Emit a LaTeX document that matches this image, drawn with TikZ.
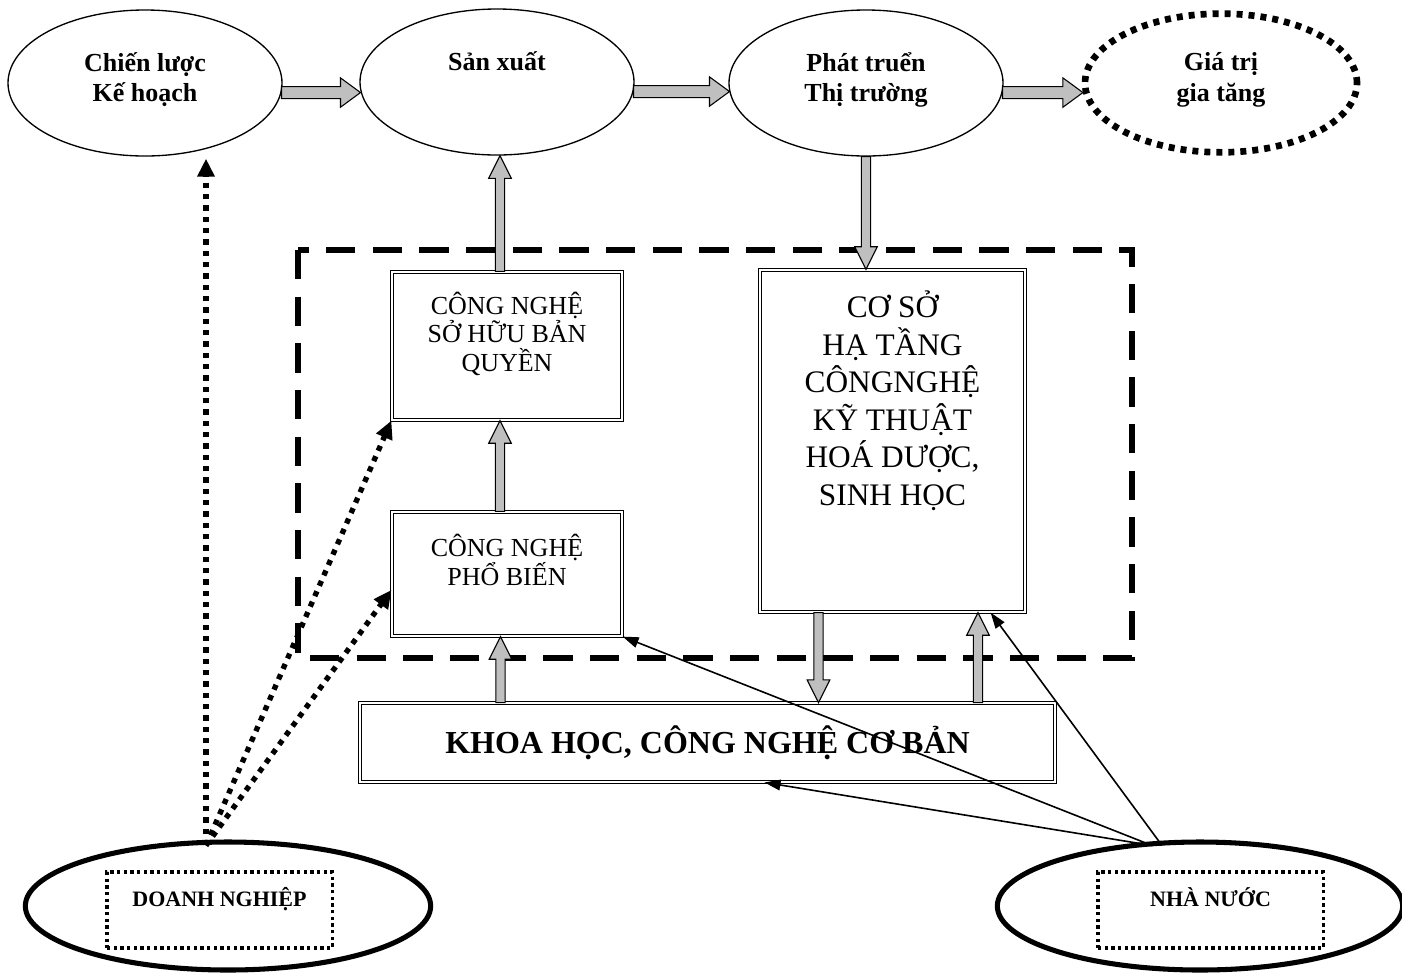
\documentclass[tikz,border=0pt]{standalone}
\usepackage{fontspec}
\setmainfont{Liberation Serif}
\usetikzlibrary{calc}
\usetikzlibrary{arrows.meta}
\usetikzlibrary{shapes.geometric}

% grey block arrows, horizontal (left to right) and vertical
\newcommand{\fath}[2]{%
 \draw[fill=gray!50, line width=.8pt] let \p1=(#1), \p2=(#2) in
  ({\x1},{\y1+4.5pt}) -- ({\x2-15pt},{\y1+4.5pt}) -- ({\x2-15pt},{\y1+11pt}) -- ({\x2},{\y1})
  -- ({\x2-15pt},{\y1-11pt}) -- ({\x2-15pt},{\y1-4.5pt}) -- ({\x1},{\y1-4.5pt}) -- cycle;}
\newcommand{\fatv}[2]{%
 \draw[fill=gray!50, line width=.8pt] let \p1=(#1), \p2=(#2), \n1={17*sign(\y2-\y1)} in
  ({\x1-3.5pt},{\y1}) -- ({\x1-3.5pt},{\y2-(\n1)*1pt}) -- ({\x1-8.5pt},{\y2-(\n1)*1pt}) -- ({\x1},{\y2})
  -- ({\x1+8.5pt},{\y2-(\n1)*1pt}) -- ({\x1+3.5pt},{\y2-(\n1)*1pt}) -- ({\x1+3.5pt},{\y1}) -- cycle;}

\begin{document}
\begin{tikzpicture}[x=.75pt, y=-.75pt,
 oval/.style={draw, ellipse, line width=1pt, inner sep=0pt, align=center, minimum width=205.5pt, minimum height=109.5pt, font=\fontsize{19.5}{23}\selectfont\bfseries},
 dbox/.style={draw, double, double distance=1.6pt, line width=.9pt, inner sep=0pt, align=center},
 actor/.style={draw, ellipse, line width=3.8pt, minimum width=304pt, minimum height=96pt},
 tagbox/.style={draw, line width=2.5pt, dash pattern=on 2.5pt off 2.5pt, minimum width=169pt, minimum height=57pt, align=center, font=\fontsize{16.5}{20}\selectfont\bfseries},
 bizline/.style={line width=4pt, dash pattern=on 4pt off 4.5pt, -{Triangle[length=13.5pt, width=12.5pt]}},
 govline/.style={line width=1.2pt, -{Triangle[length=12pt, width=8pt]}}]
\useasboundingbox (0,0) rectangle (1402,972);

% top row
\node[oval] (plan) at (145,83) {Chiến lược\\Kế hoạch\\[-14pt]\mbox{}};
\node[oval] (prod) at (497,82) {Sản xuất\\\mbox{}\\[-14pt]\mbox{}};
\node[oval] (mkt) at (866,83) {Phát truển\\Thị trường\\[-14pt]\mbox{}};
\node[oval, line width=5pt, dash pattern=on 4.5pt off 4.5pt, minimum width=204pt, minimum height=104pt] (value) at (1221,83) {Giá trị\\gia tăng\\[-14pt]\mbox{}};

% frame
\draw[line width=4.5pt, dash pattern=on 22pt off 13pt] (298,250) rectangle (1132,658);

% boxes
\node[dbox, minimum width=172.5pt, minimum height=111pt, font=\fontsize{19.5}{21.5}\selectfont] (own) at (507,346) {CÔNG NGHỆ\\SỞ HỮU BẢN\\QUYỀN\\\mbox{}};
\node[dbox, minimum width=172.5pt, minimum height=93pt, font=\fontsize{19.5}{21.5}\selectfont] (pop) at (507,574) {CÔNG NGHỆ\\PHỔ BIẾN\\\mbox{}};
\node[dbox, minimum width=198.75pt, minimum height=256.5pt, font=\fontsize{23.5}{28.2}\selectfont] (infra) at (892.5,441) {CƠ SỞ\\HẠ TẦNG\\CÔNGNGHỆ\\KỸ THUẬT\\HOÁ DƯỢC,\\SINH HỌC\\\mbox{}\\[8pt]\mbox{}};
\node[dbox, minimum width=521pt, minimum height=59pt, font=\fontsize{24}{29}\selectfont\bfseries] (base) at (707.5,742.5) {KHOA HỌC, CÔNG NGHỆ CƠ BẢN};

% bottom actors
\node[actor] (bizE) at (228,906) {};
\node[tagbox] (biz) at (219.5,910) {DOANH NGHIỆP\\\mbox{}};
\node[actor] (govE) at (1200,906) {};
\node[tagbox] (gov) at (1210.5,910) {NHÀ NƯỚC\\\mbox{}};

% block arrows
\fath{plan.-4}{prod.184}
\fath{prod.-4}{mkt.184}
\fath{mkt.-4}{value.184}
\fatv{$(own.north)+(-7,0)$}{prod.south}
\fatv{$(pop.north)+(-7,0)$}{own.south}
\fatv{$(base.north)+(-207,0)$}{pop.south}
\fatv{mkt.south}{infra.north}
\fatv{$(infra.south)+(-74,0)$}{base.north}
\fatv{$(base.north)+(270.5,0)$}{infra.south}

% links from the actors
\coordinate (bizTop) at ($(bizE.north)+(-22,6)$);
\draw[bizline, shorten >=1.5pt] (bizTop) -- (plan.south -| bizTop);
\draw[bizline] (bizTop) -- (own.south west);
\draw[bizline] (bizTop) -- ($(pop.west)+(0,16)$);
\coordinate (govTop) at ($(govE.north)+(-48,6)$);
\draw[govline] (govTop) -- ($(base.south)+(57,0)$);
\draw[govline] (govTop) -- (pop.south east);
\draw[govline] ($(govTop)+(10,0)$) -- ($(infra.south east)+(-35,0)$);
\end{tikzpicture}
\end{document}
